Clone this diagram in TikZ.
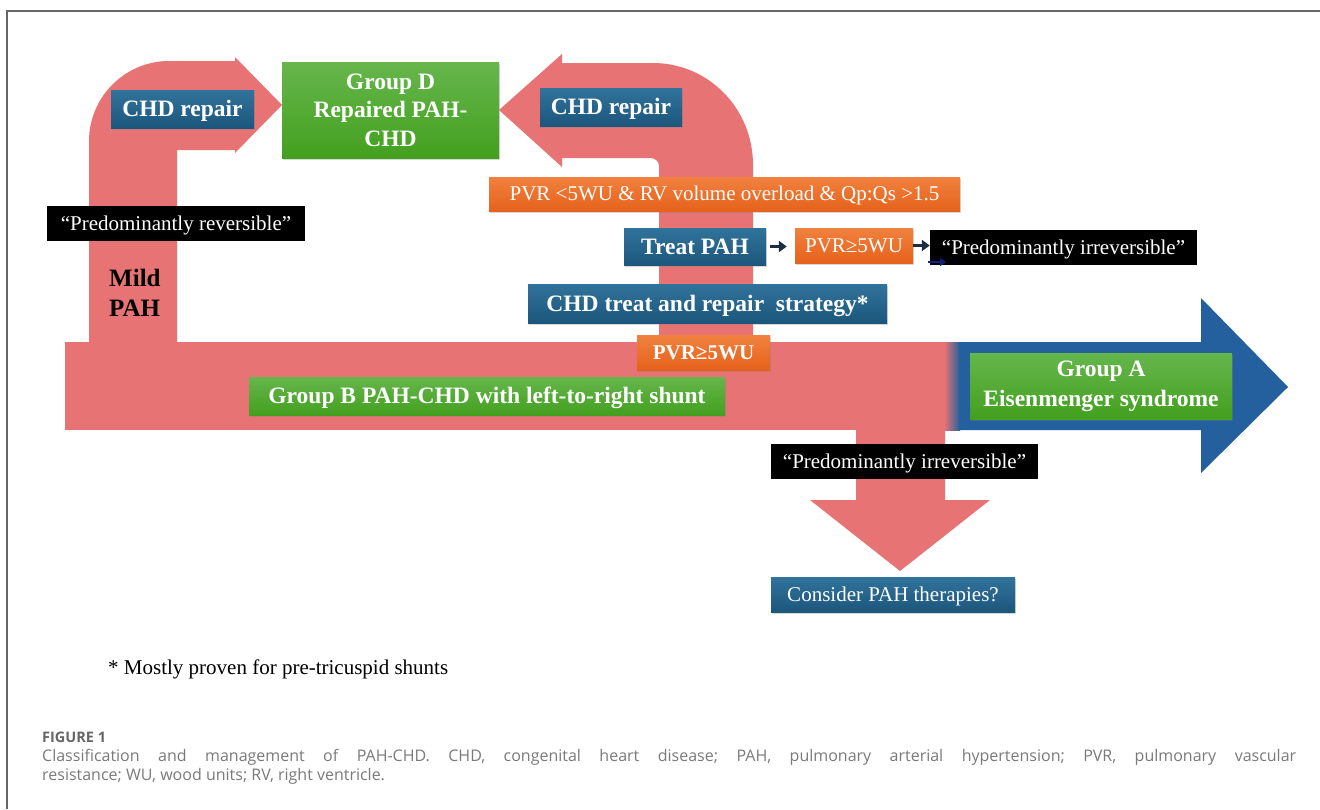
\documentclass[tikz,border=0pt]{standalone}
\usepackage{fontspec}
\setmainfont{Liberation Serif}
\newfontfamily\capfont{Open Sans}
\usetikzlibrary{arrows.meta,shadows}
\definecolor{pinkc}{HTML}{E87374}
\definecolor{bluearr}{HTML}{23609D}
\definecolor{bluetop}{HTML}{31739B}
\definecolor{bluebot}{HTML}{1C567C}
\definecolor{greentop}{HTML}{66B64C}
\definecolor{greenbot}{HTML}{43A01F}
\definecolor{orangetop}{HTML}{F1813F}
\definecolor{orangebot}{HTML}{E5621B}
\definecolor{navyarr}{HTML}{1B2E44}
\definecolor{framec}{HTML}{666666}
\definecolor{capc}{HTML}{7A7A7A}
\frenchspacing
\begin{document}
\begin{tikzpicture}[x=1pt,y=-1pt,
  box/.style={inner sep=0pt, text=white, drop shadow={shadow xshift=1.2pt,shadow yshift=-1.8pt,opacity=0.3}},
  bigone/.style={text height=15.6pt, text depth=0pt},
  regone/.style={text height=13.9pt, text depth=0pt},
  bluebox/.style={box, top color=bluetop, bottom color=bluebot},
  greenbox/.style={box, top color=greentop, bottom color=greenbot},
  orangebox/.style={box, top color=orangetop, bottom color=orangebot},
  blackbox/.style={inner sep=0pt, fill=black, text=white},
  big/.style={font=\fontsize{23.5}{28.5}\selectfont\bfseries},
  bigtwo/.style={font=\fontsize{23.5}{30}\selectfont\bfseries},
  reg/.style={font=\fontsize{21}{25}\selectfont},
  regb/.style={font=\fontsize{21}{25}\selectfont\bfseries},
  smallarr/.style={draw=navyarr, line width=3.6pt, -{Triangle[length=8pt,width=11pt]}},
  flow/.style={fill=pinkc}
]
\useasboundingbox (0,0) rectangle (1320,809);
\fill[white] (0,0) rectangle (1320,809);
% frame
\draw[framec, line width=1.5pt] (7,809) -- (7,11) -- (1320,11);
% pink flows
\fill[flow] (65,342) rectangle (950,430);
\fill[flow] (89,345) -- (89,141) .. controls (89,97) and (125,61) .. (169,61) -- (235,61) -- (235,57) -- (282,105) -- (235,153) -- (235,150) -- (177,150) -- (177,345) -- cycle;
\fill[flow] (659,345) -- (659,166) .. controls (659,161) and (655,158) .. (650,158) -- (562,158) -- (562,167) -- (499,110) -- (562,54) -- (562,63) -- (653,63) .. controls (708,63) and (753,108) .. (753,165) -- (753,345) -- cycle;
\fill[flow] (856,425) -- (856,500) -- (810,500) -- (900,571) -- (990,500) -- (945,500) -- (945,425) -- cycle;
\shade[left color=pinkc, right color=bluearr] (944,342) rectangle (960,430);
\fill[bluearr] (959,342) -- (1201,342) -- (1201,298) -- (1288,387) -- (1201,473) -- (1201,430) -- (959,430) -- cycle;
% boxes
\node[bluebox,big,bigone,minimum width=143pt,minimum height=38pt] (chdL) at (182.5,109) {CHD repair};
\node[greenbox,big,align=center,minimum width=217pt,minimum height=96pt] (grpD) at (390.5,110) {Group D\\Repaired PAH-\\CHD};
\node[bluebox,big,bigone,minimum width=142pt,minimum height=38pt] (chdR) at (611,107) {CHD repair};
\node[orangebox,reg,regone,minimum width=471pt,minimum height=34pt] (pvrA) at (724.5,194) {PVR <5WU \& RV volume overload \& Qp:Qs >1.5};
\node[bluebox,big,bigone,minimum width=142pt,minimum height=37pt] (treat) at (695,246.5) {Treat PAH};
\node[orangebox,reg,regone,minimum width=118pt,minimum height=35pt] (pvrB) at (854,245.5) {PVR≥5WU};
\node[blackbox,reg,regone,minimum width=267pt,minimum height=35pt] (irrA) at (1063.5,247.5) {“Predominantly irreversible”};
\node[blackbox,reg,regone,minimum width=258pt,minimum height=35pt] (rev) at (176,223.5) {“Predominantly reversible”};
\node[bluebox,big,bigone,minimum width=359pt,minimum height=39pt] (strat) at (707.5,303.5) {CHD treat and repair\ \ strategy*};
\node[orangebox,regb,regone,minimum width=133pt,minimum height=35pt] (pvrC) at (703.5,352.5) {PVR≥5WU};
\node[greenbox,big,bigone,minimum width=476pt,minimum height=38pt] (grpB) at (487,396) {Group B PAH-CHD with left-to-right shunt};
\node[greenbox,bigtwo,align=center,minimum width=262pt,minimum height=66pt] (grpA) at (1101,386) {Group A\\Eisenmenger syndrome};
\node[blackbox,reg,regone,minimum width=267pt,minimum height=35pt] (irrB) at (904.5,461.5) {“Predominantly irreversible”};
\node[bluebox,reg,regone,minimum width=244pt,minimum height=35pt] (cons) at (893,594.5) {Consider PAH therapies?};
% text labels
\node[anchor=north west, inner sep=0pt, align=left, font=\fontsize{25}{30}\selectfont\bfseries] (mild) at (109,269) {Mild\\PAH};
\node[anchor=base west, inner sep=0pt, font=\fontsize{21}{25}\selectfont] (note) at (108,674) {* Mostly proven for pre-tricuspid shunts};
% small arrows
\draw[smallarr, shorten <=4pt, shorten >=8pt] (treat.east) -- (treat.east -| pvrB.west);
\draw[smallarr] (pvrB.east) -- (pvrB.east -| irrA.west);
\coordinate (s1) at (928,262);
\coordinate (s2) at (946,262);
\draw[draw=navyarr!70!blue, line width=2.4pt, -{Triangle[length=6pt,width=8pt]}] (s1) -- (s2);
% caption
\node[anchor=base west, inner sep=0pt, text=framec, font=\capfont\bfseries\fontsize{14.5}{19}\selectfont] (fig) at (42,742) {FIGURE 1};
\node[anchor=base west, inner sep=0pt, text=capc, font=\capfont\fontsize{16}{19}\selectfont] (cap) at (42,761) {\parbox[t]{1254pt}{\frenchspacing Classification and management of PAH-CHD. CHD, congenital heart disease; PAH, pulmonary arterial hypertension; PVR, pulmonary vascular\linebreak resistance; WU, wood units; RV, right ventricle.}};
\end{tikzpicture}
\end{document}
